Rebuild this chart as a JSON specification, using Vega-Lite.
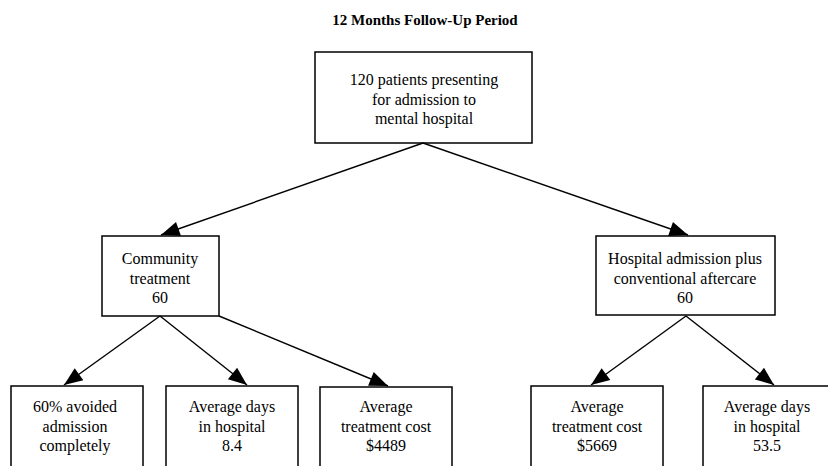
{
  "$schema": "https://vega.github.io/schema/vega-lite/v6.json",
  "width": 828,
  "height": 466,
  "autosize": {"type": "fit", "contains": "padding"},
  "padding": 0,
  "background": "white",
  "config": {"view": {"stroke": null}, "text": {"font": "Liberation Serif", "lineBreak": "\n"}},
  "datasets": {
    "boxes": [
      {"id": "root", "x1": 315, "x2": 532, "y1": 52, "y2": 143},
      {"id": "community", "x1": 102, "x2": 219, "y1": 236, "y2": 316},
      {"id": "hospital", "x1": 596, "x2": 775, "y1": 236, "y2": 315},
      {"id": "c_avoided", "x1": 11, "x2": 143, "y1": 386, "y2": 490},
      {"id": "c_days", "x1": 166, "x2": 298, "y1": 386, "y2": 490},
      {"id": "c_cost", "x1": 320, "x2": 452, "y1": 387, "y2": 490},
      {"id": "h_cost", "x1": 531, "x2": 663, "y1": 386, "y2": 490},
      {"id": "h_days", "x1": 703, "x2": 835, "y1": 386, "y2": 490}
    ],
    "arrows": [
      {"from": "root", "to": "community", "x1": 423, "y1": 143, "x2": 161, "y2": 235},
      {"from": "root", "to": "hospital", "x1": 423, "y1": 143, "x2": 688, "y2": 235},
      {"from": "community", "to": "c_avoided", "x1": 160, "y1": 316, "x2": 64, "y2": 385},
      {"from": "community", "to": "c_days", "x1": 160, "y1": 316, "x2": 247, "y2": 385},
      {"from": "community", "to": "c_cost", "x1": 219, "y1": 316, "x2": 388, "y2": 386},
      {"from": "hospital", "to": "h_cost", "x1": 686, "y1": 316, "x2": 591, "y2": 385},
      {"from": "hospital", "to": "h_days", "x1": 686, "y1": 316, "x2": 774, "y2": 385}
    ],
    "labels": [
      {"id": "root", "x": 424, "y": 80, "label": "120 patients presenting\nfor admission to\nmental hospital"},
      {"id": "community", "x": 160, "y": 259, "label": "Community\ntreatment\n60"},
      {"id": "hospital", "x": 685, "y": 259, "label": "Hospital admission plus\nconventional aftercare\n60"},
      {"id": "c_avoided", "x": 75, "y": 407, "label": "60% avoided\nadmission\ncompletely"},
      {"id": "c_days", "x": 232, "y": 407, "label": "Average days\nin hospital\n8.4"},
      {"id": "c_cost", "x": 386, "y": 407, "label": "Average\ntreatment cost\n$4489"},
      {"id": "h_cost", "x": 597, "y": 407, "label": "Average\ntreatment cost\n$5669"},
      {"id": "h_days", "x": 767, "y": 407, "label": "Average days\nin hospital\n53.5"}
    ],
    "title": [
      {"x": 425, "y": 20, "label": "12 Months Follow-Up Period"}
    ]
  },
  "layer": [
    {
      "data": {"name": "boxes"},
      "mark": {"type": "rect", "fill": "white", "stroke": "black", "strokeWidth": 1.5, "clip": true},
      "encoding": {
        "x": {"field": "x1", "type": "quantitative", "scale": {"domain": [0, 828], "nice": false, "zero": false}, "axis": null},
        "x2": {"field": "x2"},
        "y": {"field": "y1", "type": "quantitative", "scale": {"domain": [0, 466], "nice": false, "zero": false, "reverse": true}, "axis": null},
        "y2": {"field": "y2"}
      }
    },
    {
      "data": {"name": "arrows"},
      "mark": {"type": "rule", "stroke": "black", "strokeWidth": 1.4},
      "encoding": {
        "x": {"field": "x1", "type": "quantitative"},
        "x2": {"field": "x2"},
        "y": {"field": "y1", "type": "quantitative"},
        "y2": {"field": "y2"}
      }
    },
    {
      "data": {"name": "arrows"},
      "transform": [
        {"calculate": "atan2(datum.x2 - datum.x1, -(datum.y2 - datum.y1)) * 180 / PI", "as": "heading"}
      ],
      "mark": {"type": "point", "shape": "M0,0L-0.4,1L0.4,1Z", "size": 1369, "filled": true, "fill": "black", "opacity": 1, "strokeWidth": 0},
      "encoding": {
        "x": {"field": "x2", "type": "quantitative"},
        "y": {"field": "y2", "type": "quantitative"},
        "angle": {"field": "heading", "type": "quantitative", "scale": null}
      }
    },
    {
      "data": {"name": "labels"},
      "mark": {"type": "text", "font": "Liberation Serif", "fontSize": 16, "lineHeight": 19.5, "align": "center", "baseline": "middle", "color": "black"},
      "encoding": {
        "x": {"field": "x", "type": "quantitative"},
        "y": {"field": "y", "type": "quantitative"},
        "text": {"field": "label"}
      }
    },
    {
      "data": {"name": "title"},
      "mark": {"type": "text", "font": "Liberation Serif", "fontSize": 15, "fontWeight": "bold", "align": "center", "baseline": "middle", "color": "black"},
      "encoding": {
        "x": {"field": "x", "type": "quantitative"},
        "y": {"field": "y", "type": "quantitative"},
        "text": {"field": "label"}
      }
    }
  ]
}
